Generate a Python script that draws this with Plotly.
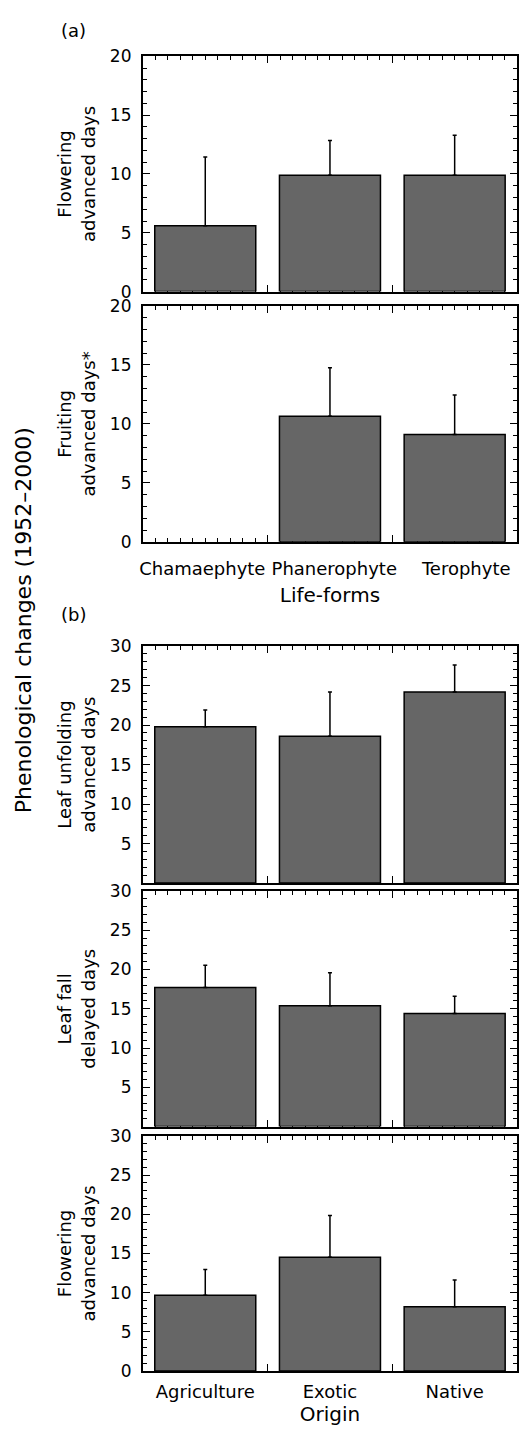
import plotly.graph_objects as go

# ---------------- data ----------------
life_forms = ["Chamaephyte", "Phanerophyte", "Terophyte"]
flowering_a = [5.6, 9.9, 9.9]
flowering_a_err = [5.85, 2.95, 3.4]
fruiting_a = [None, 10.65, 9.1]
fruiting_a_err = [None, 4.1, 3.35]

origins = ["Agriculture", "Exotic", "Native"]
leaf_unfolding_b = [19.8, 18.6, 24.2]
leaf_unfolding_b_err = [2.1, 5.6, 3.4]
leaf_fall_b = [17.7, 15.4, 14.4]
leaf_fall_b_err = [2.85, 4.2, 2.2]
flowering_b = [9.65, 14.5, 8.2]
flowering_b_err = [3.3, 5.35, 3.4]

ticks_20 = [0, 5, 10, 15, 20]
ticks_30_no0 = [5, 10, 15, 20, 25, 30]
ticks_30 = [0, 5, 10, 15, 20, 25, 30]

panel_titles = [
    "Flowering<br>advanced days",
    "Fruiting<br>advanced days*",
    "Leaf unfolding<br>advanced days",
    "Leaf fall<br>delayed days",
    "Flowering<br>advanced days",
]

# ---------------- layout geometry ----------------
W, H = 519, 1449
FONT = "DejaVu Sans"
x_dom = [141 / W, 518 / W]
pix_y = [(47, 285.5), (300, 539.3), (645, 885.3), (893.3, 1132.2), (1141.7, 1380)]
y_doms = [[1 - b / H, 1 - t / H] for t, b in pix_y]

panels = [
    (life_forms, flowering_a, flowering_a_err, [0, 20], ticks_20),
    (life_forms, fruiting_a, fruiting_a_err, [0, 20], ticks_20),
    (origins, leaf_unfolding_b, leaf_unfolding_b_err, [0, 30], ticks_30_no0),
    (origins, leaf_fall_b, leaf_fall_b_err, [0, 30], ticks_30_no0),
    (origins, flowering_b, flowering_b_err, [0, 30], ticks_30),
]

fig = go.Figure()
layout = dict(
    width=W, height=H,
    margin=dict(l=0, r=0, t=0, b=0),
    paper_bgcolor="white", plot_bgcolor="white",
    showlegend=False,
    font=dict(family=FONT, size=17, color="black"),
)

for i, (cats, vals, errs, yr, yt) in enumerate(panels, start=1):
    xs = list(range(len(cats)))
    fig.add_trace(go.Bar(
        x=xs, y=vals,
        marker=dict(color="#666666", line=dict(color="black", width=1.5)),
        error_y=dict(type="data", array=errs, arrayminus=[0] * len(cats),
                     symmetric=False, color="black", thickness=1.5, width=2),
        xaxis=f"x{i}", yaxis=f"y{i}", width=0.81,
    ))
    layout[f"xaxis{i}"] = dict(
        domain=x_dom, anchor=f"y{i}", range=[-0.5, len(cats) - 0.5],
        tickmode="array", tickvals=[k + 0.5 for k in xs[:-1]],
        ticks="inside", ticklen=7, tickwidth=1.3, tickcolor="black",
        showticklabels=False, showline=True, linecolor="black", linewidth=2,
        mirror="ticks", showgrid=False, zeroline=False, layer="below traces",
        minor=dict(tick0=-0.5, dtick=0.1, ticks="inside", ticklen=4,
                   tickwidth=1, tickcolor="black", showgrid=False),
    )
    layout[f"yaxis{i}"] = dict(
        domain=y_doms[i - 1], anchor=f"x{i}", range=yr,
        tickmode="array", tickvals=yt,
        ticks="inside", ticklen=7, tickwidth=1.3, tickcolor="black",
        showline=True, linecolor="black", linewidth=2, mirror="ticks",
        showgrid=False, zeroline=False, layer="below traces",
        ticklabelstandoff=6,
        tickfont=dict(size=17),
        title=dict(text=panel_titles[i - 1], font=dict(size=18), standoff=10),
        minor=dict(dtick=1, ticks="inside", ticklen=4, tickwidth=1,
                   tickcolor="black", showgrid=False),
    )

# category label axes (overlaid on bottom panel of each group)
label_axes = [
    (2, life_forms, "Life-forms", 14, [-0.45, 2.385], 10),
    (5, origins, "Origin", 8, [-0.5, 2.5], 6),
]
for j, (base, cats, title, lab_off, rng, t_off) in enumerate(label_axes):
    ax_id = 6 + j
    fig.add_trace(go.Scatter(
        x=cats, y=[0] * len(cats), mode="markers",
        marker=dict(opacity=0), hoverinfo="skip",
        xaxis=f"x{ax_id}", yaxis=f"y{base}",
    ))
    layout[f"xaxis{ax_id}"] = dict(
        overlaying=f"x{base}", anchor=f"y{base}", type="category",
        range=rng, ticks="", showline=False,
        showgrid=False, zeroline=False, ticklabelstandoff=lab_off,
        tickangle=0,
        tickfont=dict(size=18),
        title=dict(text=title, font=dict(size=20), standoff=t_off),
    )

fig.update_layout(**layout)

fig.add_annotation(text="Phenological changes (1952\u20132000)", textangle=-90,
                   x=21 / W, y=1 - 619 / H, xref="paper", yref="paper",
                   showarrow=False, font=dict(size=22), xanchor="center", yanchor="middle")
fig.add_annotation(text="(a)", x=71 / W, y=1 - 21 / H, xref="paper", yref="paper",
                   showarrow=False, font=dict(size=18), xanchor="center", yanchor="middle")
fig.add_annotation(text="(b)", x=71 / W, y=1 - 613 / H, xref="paper", yref="paper",
                   showarrow=False, font=dict(size=18), xanchor="center", yanchor="middle")

page_fix = (
    "var d=document.getElementById('{plot_id}');"
    "d.style.position='absolute';d.style.top='0px';d.style.left='0px';"
    "document.body.style.margin='0';document.body.style.padding='0';"
    "document.body.style.overflow='hidden';"
    "document.documentElement.style.overflow='hidden';"
)

fig.write_html("out.html", post_script=page_fix)
